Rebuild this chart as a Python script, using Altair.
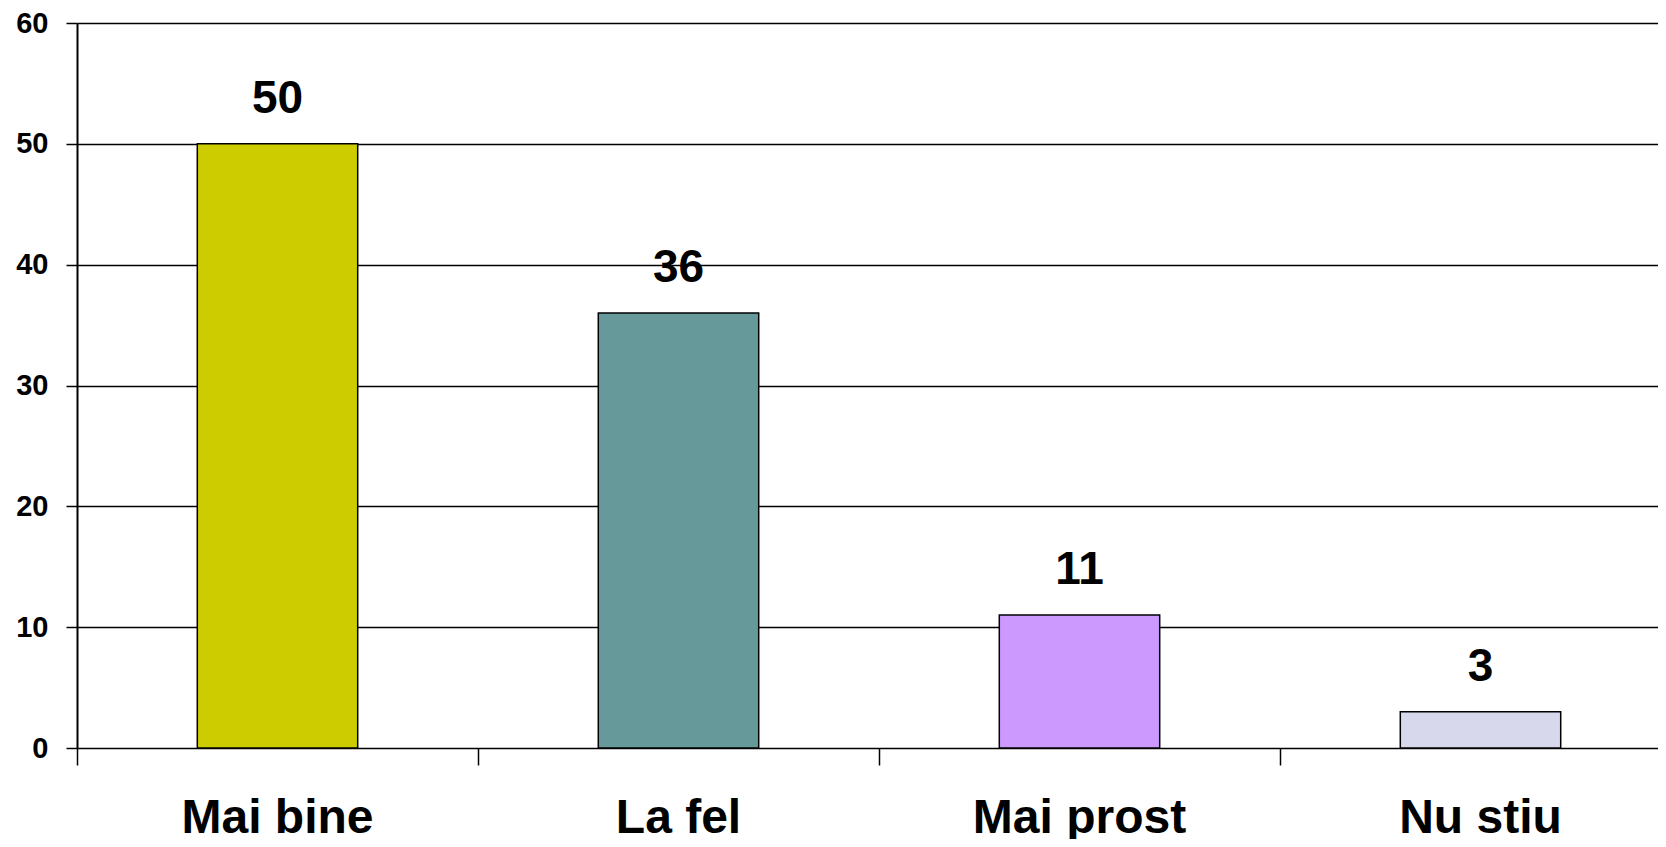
import altair as alt
import pandas as pd

categories = ["Mai bine", "La fel", "Mai prost", "Nu stiu"]
values = [50, 36, 11, 3]
colors = ["#CCCC00", "#669999", "#CC99FF", "#D8D8EC"]
y_ticks = [0, 10, 20, 30, 40, 50, 60]

df = pd.DataFrame({"cat": categories, "val": values})

FONT = "Liberation Sans"

x_enc = alt.X(
    "cat:N",
    sort=categories,
    scale=alt.Scale(paddingInner=0, paddingOuter=0, range=[0, 1604]),
    axis=alt.Axis(
        title=None,
        bandPosition=0,
        labelAngle=0,
        labelLimit=0,
        tickSize=17,
        tickColor="black",
        tickWidth=1.5,
        domain=False,
        grid=False,
        labelFont=FONT,
        labelFontSize=48,
        labelFontWeight="bold",
        labelColor="black",
        labelPadding=29,
    ),
)

y_enc = alt.Y(
    "val:Q",
    scale=alt.Scale(domain=[0, 60], nice=False),
    axis=alt.Axis(
        title=None,
        values=y_ticks,
        tickSize=11,
        tickColor="black",
        tickWidth=1.5,
        domainColor="black",
        domainWidth=2,
        grid=True,
        gridColor="black",
        gridWidth=1.5,
        gridOpacity=1,
        labelFont=FONT,
        labelFontSize=29,
        labelFontWeight="bold",
        labelColor="black",
        labelPadding=18,
    ),
)

bars = alt.Chart(df).mark_bar(
    width=alt.RelativeBandSize(0.4), stroke="black", strokeWidth=1.5
).encode(
    x=x_enc,
    y=y_enc,
    color=alt.Color(
        "cat:N",
        scale=alt.Scale(domain=categories, range=colors),
        legend=None,
    ),
)

labels = alt.Chart(df).mark_text(
    font=FONT, fontSize=46, fontWeight="bold", color="black",
    baseline="alphabetic", dy=-31,
).encode(
    x=alt.X("cat:N", sort=categories),
    y=alt.Y("val:Q"),
    text=alt.Text("val:Q"),
)

chart = alt.layer(bars, labels).properties(
    width=1581,
    height=725,
    autosize=alt.AutoSizeParams(type="none"),
    padding={"left": 69, "top": 15, "right": 0, "bottom": 91},
    background="white",
).configure_view(stroke="transparent")

chart.save("out.html", embed_options={"renderer": "svg", "actions": False})
